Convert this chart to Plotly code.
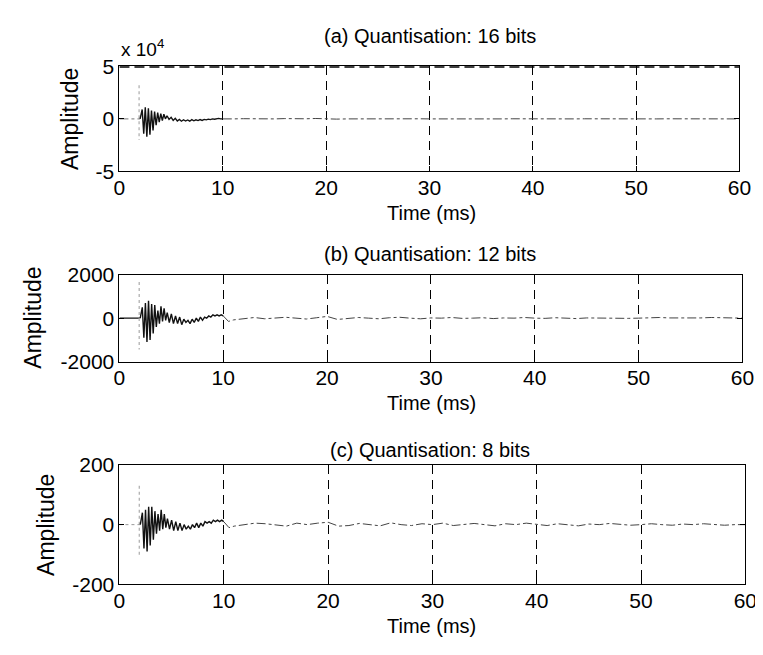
import plotly.graph_objects as go

W, H = 763, 655

# ---------------- data ----------------
titles = ["(a) Quantisation: 16 bits", "(b) Quantisation: 12 bits", "(c) Quantisation: 8 bits"]
x_ticks = [0, 10, 20, 30, 40, 50, 60]

# early part of the impulse response (ms)
t_on = [2.0, 2.2, 2.35, 2.5, 2.65, 2.8, 2.95, 3.1, 3.25, 3.4, 3.55, 3.7, 3.85, 4.0, 4.15,
        4.3, 4.45, 4.6, 4.8, 5.0, 5.2, 5.4, 5.6, 5.8, 6.0, 6.2, 6.4, 6.6, 6.8, 7.0, 7.2,
        7.4, 7.6, 7.8, 8.0, 8.2, 8.4, 8.6, 8.8, 9.0, 9.2, 9.4, 9.6, 9.8, 10.0]

amp_a = [0, 9000, -14000, 11000, -17000, 10000, -15000, 8000, -11000, 7000, -6000, 6000,
         -3000, 5000, -1500, 4500, 0, 3000, -500, 1500, -1500, 500, -2000, -500, -2200,
         -800, -2000, -1000, -2200, -700, -1800, -900, -1600, -600, -1400, -500, -900,
         -200, -700, 0, -300, 300, 500, 0, 0]
amp_b = [0, 500, -900, 700, -1100, 800, -1000, 650, -700, 600, -400, 350, -250, 550,
         -150, 450, -100, 250, -200, 200, -250, 100, -250, 50, -300, -50, -200, -100,
         -250, -50, -200, 0, -150, 50, -100, 50, 0, 100, 50, 150, 100, 150, 100, 150, 100]
amp_c = [0, 40, -80, 50, -90, 60, -70, 60, -50, 45, -30, 35, -20, 50, -15, 35, -10, 20,
         -15, 15, -20, 10, -20, 5, -20, 0, -15, -5, -15, 0, -10, 5, -10, 5, -5, 10, 5, 10,
         5, 15, 10, 15, 10, 15, 10]

# late tail (ms)
t_tail = [10.0, 10.5, 11, 12, 13, 14, 15, 16, 17, 18, 19, 20, 21, 22, 23, 24, 25, 26, 27,
          28, 29, 30, 31, 32, 33, 34, 35, 36, 37, 38, 39, 40, 41, 42, 43, 44, 45, 46, 47,
          48, 49, 50, 51, 52, 53, 54, 55, 56, 57, 58, 59, 60]
tail_a = [0, -300, 0, 200, 0, -200, 0, 300, 0, 100, 400, 0, -200, 0, 100, 0, -100, 0, 200,
          0, 100, 0, -100, 0, 100, 0, 0, -100, 0, 100, 0, 0, 100, 0, -100, 0, 100, 0, 0,
          100, 0, 0, -100, 0, 100, 0, 0, 100, 0, 0, 100, 0]
tail_b = [100, -150, -80, -20, 30, -30, 20, 40, 0, -40, 20, 80, -60, -20, 30, 0, -30, 20,
          40, 0, -30, 10, 0, 30, -10, 0, 20, -20, 10, 0, 30, 0, -10, 20, 0, -20, 10, 0, 20,
          0, -10, 0, 20, 30, 10, 0, -10, 10, 30, 20, 0, 0]
tail_c = [10, -10, -5, 0, 5, 3, 0, -5, 5, 0, 5, 8, -5, -3, 4, 0, -4, 6, 0, -3, 3, 0, 5, -3,
          0, 4, 0, -4, 3, 0, 5, 0, -3, 3, 0, -4, 2, 0, 4, 0, -2, 0, 3, 0, -2, 2, 0, 3, 0,
          -2, 0, 0]

# direct-sound spike (dotted grey) and pre-onset segment
t_spike = [1.9, 1.9]
spike_a = [32000, -20000]
spike_b = [1660, -1440]
spike_c = [130, -107]
t_pre = [0, 2.0]
pre_vals = [0, 0]

y_ranges = [[-50000, 50000], [-2000, 2000], [-200, 200]]
y_tickvals = [[-50000, 0, 50000], [-2000, 0, 2000], [-200, 0, 200]]
y_ticktext = [["-5", "0", "5"], ["-2000", "0", "2000"], ["-200", "0", "200"]]

# ---------------- layout geometry (pixels) ----------------
panels_px = [  # (left, right, top, bottom)
    (108, 743, 48, 157),
    (108, 746, 264, 354),
    (108, 749, 461, 585),
]

def fx(p):
    return p / W

def fy(p):
    return 1 - p / H

FONT = "Liberation Sans, Arial, sans-serif"
fig = go.Figure()

amps = [amp_a, amp_b, amp_c]
tails = [tail_a, tail_b, tail_c]
spikes = [spike_a, spike_b, spike_c]
pre_styles = [dict(color="#777", width=1, dash="dashdot"),
              dict(color="#111", width=1.3),
              dict(color="#999", width=1, dash="dot")]

layout_axes = {}
for i in range(3):
    xa = "x" if i == 0 else f"x{i+1}"
    ya = "y" if i == 0 else f"y{i+1}"
    l, r, t, b = panels_px[i]
    fig.add_trace(go.Scatter(x=t_pre, y=pre_vals, mode="lines", line=pre_styles[i],
                             xaxis=xa, yaxis=ya, hoverinfo="skip"))
    fig.add_trace(go.Scatter(x=t_spike, y=spikes[i], mode="lines",
                             line=dict(color="#aaa", width=1.2, dash="dot"),
                             xaxis=xa, yaxis=ya, hoverinfo="skip"))
    fig.add_trace(go.Scatter(x=t_tail, y=tails[i], mode="lines",
                             line=dict(color="#444", width=1, dash="dashdot"),
                             xaxis=xa, yaxis=ya))
    fig.add_trace(go.Scatter(x=t_on, y=amps[i], mode="lines",
                             line=dict(color="#111", width=1.4),
                             xaxis=xa, yaxis=ya))

    xkey = "xaxis" if i == 0 else f"xaxis{i+1}"
    ykey = "yaxis" if i == 0 else f"yaxis{i+1}"
    layout_axes[xkey] = dict(
        domain=[fx(l), fx(r)], anchor=ya, range=[0, 60], tickvals=x_ticks,
        showgrid=True, gridcolor="#000", gridwidth=1, griddash="9px,6px",
        zeroline=False, showline=True, linecolor="#000", linewidth=1, mirror="ticks",
        ticks="inside", ticklen=5, tickcolor="#000", ticklabelstandoff=-3,
        tickfont=dict(family=FONT, size=21, color="#000"),
    )
    layout_axes[ykey] = dict(
        domain=[fy(b), fy(t)], anchor=xa, range=y_ranges[i], tickvals=y_tickvals[i],
        ticktext=y_ticktext[i], showgrid=False, zeroline=False, showline=True,
        linecolor="#000", linewidth=1, mirror="ticks", ticks="inside", ticklen=5,
        tickcolor="#000", tickfont=dict(family=FONT, size=21, color="#000"),
    )

# dashed line along top of first panel (grid at y = 5)
fig.add_shape(type="line", xref="x", yref="y", x0=0, x1=60, y0=50000, y1=50000,
              line=dict(color="#000", width=3, dash="10px,5px"))

ann = []
title_y = [17, 242, 446]
time_y = [200, 397, 628]
amp_pos = [(58, 103), (20, 309), (32, 523)]
for i in range(3):
    ann.append(dict(text=titles[i], x=fx(426), y=fy(title_y[i]), xref="paper", yref="paper",
                    showarrow=False, xanchor="center", yanchor="middle",
                    font=dict(family=FONT, size=20, color="#000")))
    ann.append(dict(text="Time (ms)", x=fx(428), y=fy(time_y[i]), xref="paper", yref="paper",
                    showarrow=False, xanchor="center", yanchor="middle",
                    font=dict(family=FONT, size=20, color="#000")))
    ann.append(dict(text="Amplitude", x=fx(amp_pos[i][0]), y=fy(amp_pos[i][1]), xref="paper",
                    yref="paper", showarrow=False, textangle=-90, xanchor="center",
                    yanchor="middle", font=dict(family=FONT, size=23, color="#000")))
ann.append(dict(text="x 10<sup>4</sup>", x=fx(108), y=fy(29), xref="paper", yref="paper",
                showarrow=False, xanchor="left", yanchor="middle",
                font=dict(family=FONT, size=19, color="#000")))

fig.update_layout(width=W, height=H, margin=dict(l=0, r=0, t=0, b=0),
                  paper_bgcolor="white", plot_bgcolor="white", showlegend=False,
                  annotations=ann, **layout_axes)

fig.write_html("out.html")
